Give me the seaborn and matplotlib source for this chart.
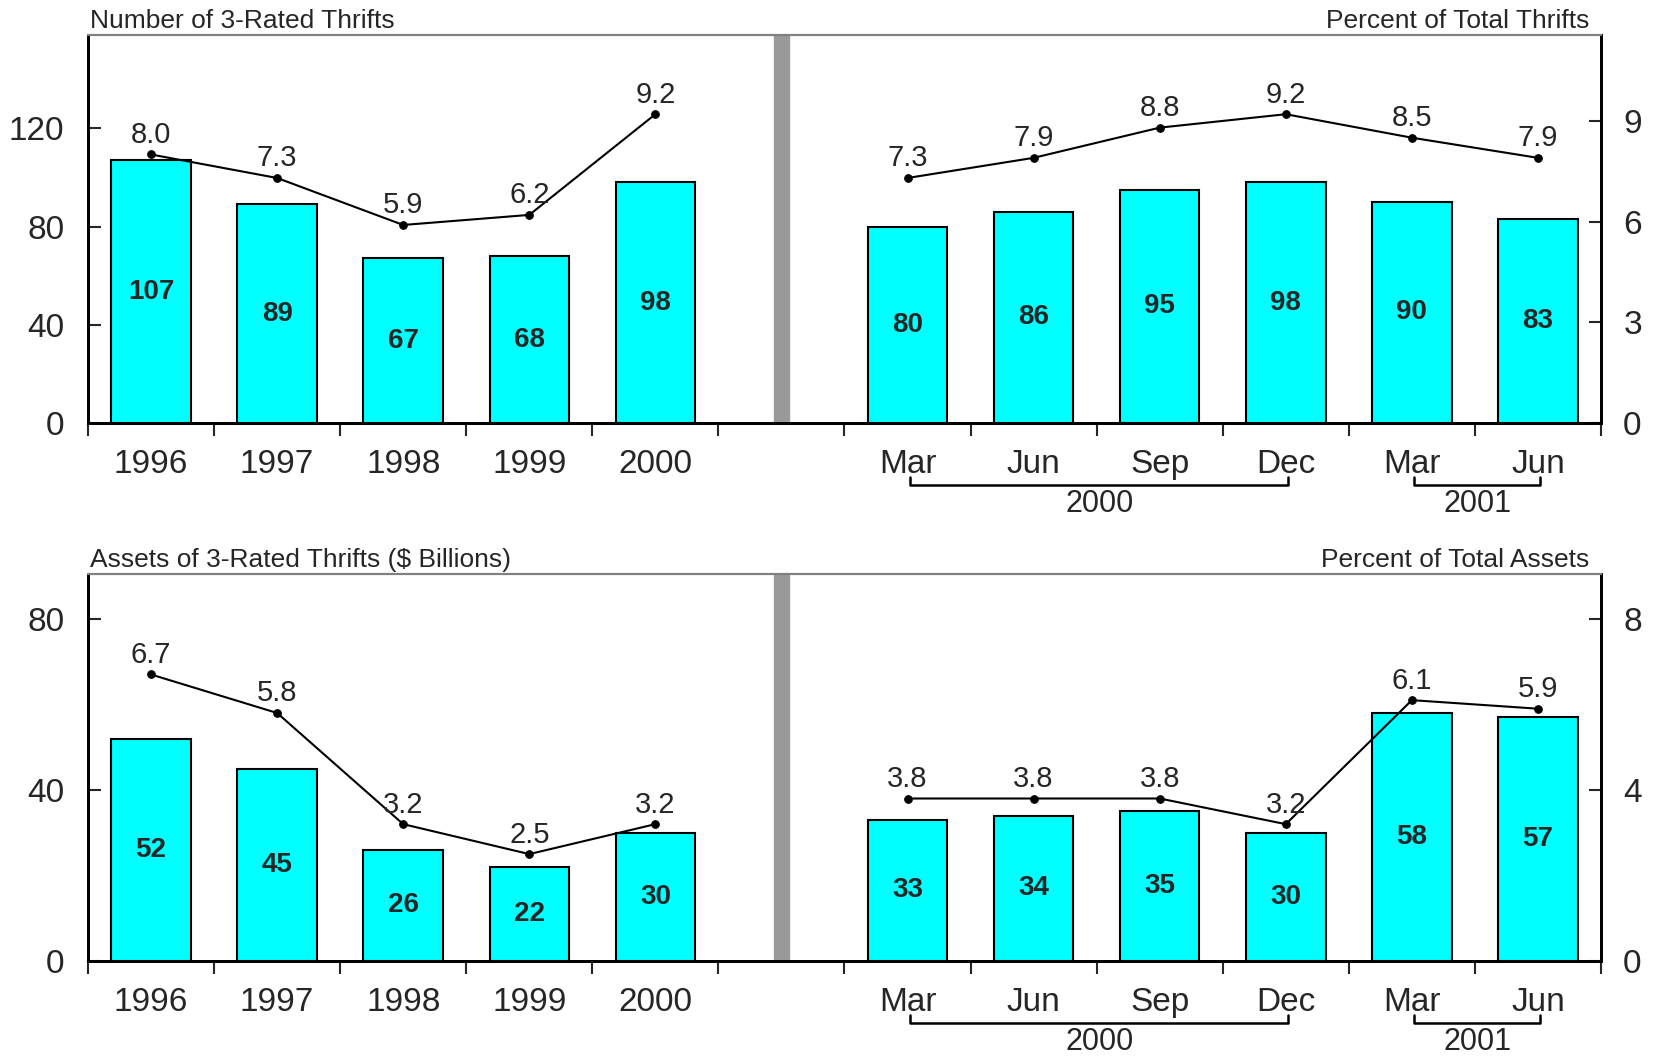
import numpy as np
import pandas as pd
import matplotlib
matplotlib.use("Agg")
import matplotlib.pyplot as plt
import seaborn as sns

# slot layout: 5 years, a spacer, 6 quarters
years = ["1996", "1997", "1998", "1999", "2000"]
quarters = ["Mar", "Jun", "Sep", "Dec", "Mar", "Jun"]
quarter_years = ["2000", "2000", "2000", "2000", "2001", "2001"]

# top panel
thrift_count = [107, 89, 67, 68, 98, 80, 86, 95, 98, 90, 83]
thrift_pct = [8.0, 7.3, 5.9, 6.2, 9.2, 7.3, 7.9, 8.8, 9.2, 8.5, 7.9]

# bottom panel
asset_bil = [52, 45, 26, 22, 30, 33, 34, 35, 30, 58, 57]
asset_pct = [6.7, 5.8, 3.2, 2.5, 3.2, 3.8, 3.8, 3.8, 3.2, 6.1, 5.9]

sns.set_style("white")
plt.rcParams["font.family"] = ["Liberation Sans", "DejaVu Sans"]

gap = len(years)
pos = list(range(gap)) + [gap + 1 + i for i in range(len(quarters))]
period = ["annual"] * len(years) + ["quarterly"] * len(quarters)
tick_labels = years + [""] + quarters
n_slots = len(tick_labels)

fig = plt.figure(figsize=(16.56, 10.58), dpi=100)
W, H = 1656, 1058
ax_top = fig.add_axes([88 / W, 1 - 423 / H, 1513 / W, 388 / H])
ax_bot = fig.add_axes([88 / W, 1 - 961 / H, 1513 / W, 387 / H])


def panel(ax, bars, pct, ylim_l, ylim_r, lticks, rticks, ltitle, rtitle):
    df = pd.DataFrame({"pos": pos, "bars": bars, "pct": pct, "period": period})
    sns.barplot(data=df, x="pos", y="bars", native_scale=True, width=0.63,
                color="#00FFFF", saturation=1, edgecolor="black", linewidth=1.5, ax=ax)
    ax.axvspan(gap - 0.0625, gap + 0.0625, color="#999999", zorder=0.5)
    for p, v in zip(pos, bars):
        ax.text(p, v / 2, str(v), ha="center", va="center", fontsize=20, fontweight="bold")

    ax2 = ax.twinx()
    sns.lineplot(data=df, x="pos", y="pct", hue="period", palette=["black", "black"],
                 marker="o", markersize=5.5, markeredgecolor="black", linewidth=1.5,
                 legend=False, ax=ax2)
    for p, v in zip(pos, pct):
        ax2.annotate(f"{v:.1f}", (p, v), xytext=(0, 4), textcoords="offset points",
                     ha="center", va="bottom", fontsize=21)

    ax.set_xlim(-0.5, n_slots - 0.5)
    ax.set_ylim(*ylim_l)
    ax2.set_ylim(*ylim_r)
    ax.set_yticks(lticks)
    ax2.set_yticks(rticks)
    ax.set_xticks(np.arange(-0.5, n_slots, 1.0))
    ax.set_xticklabels([])
    ax.set_xticks(np.arange(n_slots), minor=True)
    ax.set_xticklabels(tick_labels, minor=True)
    ax.set_xlabel("")
    ax.set_ylabel("")
    ax2.set_ylabel("")
    ax.tick_params(axis="x", which="major", direction="out", length=9, width=1.5, bottom=True)
    ax.tick_params(axis="x", which="minor", length=0, pad=19, labelsize=24)
    ax.tick_params(axis="y", direction="in", length=9, width=1.5, left=True, pad=17, labelsize=24)
    ax2.tick_params(axis="y", direction="in", length=9, width=1.5, right=True, pad=16, labelsize=24)

    for a in (ax, ax2):
        for s in ("left", "right", "bottom"):
            a.spines[s].set_color("black")
            a.spines[s].set_linewidth(2)
        a.spines["top"].set_color("#808080")
        a.spines["top"].set_linewidth(1.5)

    ax.text(0.001, 1.006, ltitle, transform=ax.transAxes, ha="left", va="bottom", fontsize=19)
    ax.text(0.9925, 1.006, rtitle, transform=ax.transAxes, ha="right", va="bottom", fontsize=19)

    # year brackets under the quarter labels
    tr = ax.get_xaxis_transform()
    qpos = pos[len(years):]
    for yr in dict.fromkeys(quarter_years):
        xs = [p for p, q in zip(qpos, quarter_years) if q == yr]
        x0, x1 = xs[0] + 0.02, xs[-1] + 0.02
        ax.plot([x0, x0, x1, x1], [-0.14, -0.16, -0.16, -0.14], color="black", lw=1.8,
                transform=tr, clip_on=False)
        ax.text((x0 + x1) / 2, -0.21, yr, transform=tr, ha="center", va="center", fontsize=22)


panel(ax_top, thrift_count, thrift_pct, (0, 158), (0, 11.56), [0, 40, 80, 120], [0, 3, 6, 9],
      "Number of 3-Rated Thrifts", "Percent of Total Thrifts")
panel(ax_bot, asset_bil, asset_pct, (0, 90.5), (0, 9.05), [0, 40, 80], [0, 4, 8],
      "Assets of 3-Rated Thrifts ($ Billions)", "Percent of Total Assets")

fig.savefig("out.png", dpi=100)
